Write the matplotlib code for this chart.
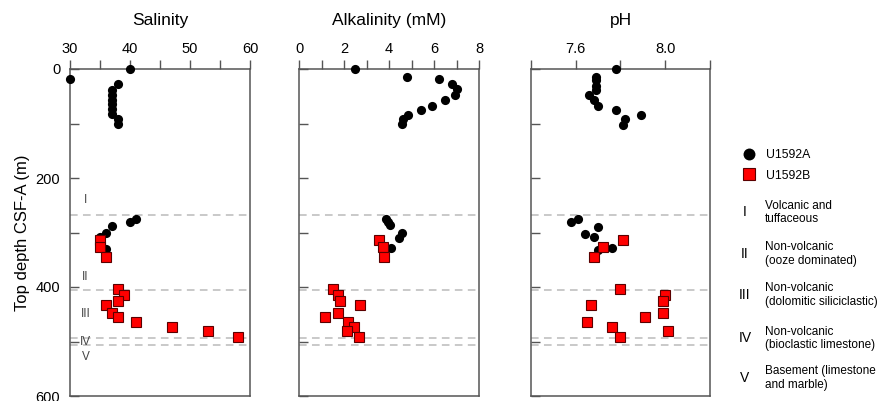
import matplotlib
matplotlib.use("Agg")
import matplotlib.pyplot as plt
from matplotlib.ticker import MultipleLocator

plt.rcParams['font.family'] = ['Liberation Sans', 'DejaVu Sans']

# --- Site U1592A (black circles) ---
sal_a_depth = [0, 18, 28, 38, 47, 56, 65, 74, 83, 92, 101, 275, 280, 288, 300, 308, 330]
sal_a = [40, 30, 38, 37, 37, 37, 37, 37, 37, 38, 38, 41, 40, 37, 36, 35, 36]

alk_a_depth = [0, 14, 19, 28, 37, 48, 56, 68, 75, 84, 92, 101, 275, 280, 287, 301, 310, 329]
alk_a = [2.5, 4.8, 6.2, 6.8, 7.0, 6.9, 6.5, 5.9, 5.4, 4.85, 4.6, 4.55, 3.85, 3.95, 4.05, 4.55, 4.45, 4.1]

ph_a_depth = [0, 14, 21, 31, 38, 48, 57, 68, 75, 84, 92, 102, 276, 281, 289, 302, 309, 328, 333]
ph_a = [7.78, 7.69, 7.69, 7.69, 7.69, 7.66, 7.68, 7.70, 7.78, 7.89, 7.82, 7.81,
        7.61, 7.58, 7.70, 7.64, 7.68, 7.76, 7.70]

# --- Site U1592B (red squares) ---
b_depth = [313, 326, 345, 403, 414, 425, 433, 447, 455, 465, 474, 480, 491]
sal_b = [35, 35, 36, 38, 39, 38, 36, 37, 38, 41, 47, 53, 58]
alk_b = [3.56, 3.71, 3.78, 1.52, 1.71, 1.83, 2.71, 1.75, 1.17, 2.19, 2.42, 2.15, 2.66]
ph_b = [7.81, 7.72, 7.68, 7.80, 8.00, 7.99, 7.67, 7.99, 7.91, 7.65, 7.76, 8.01, 7.80]

# --- Lithostratigraphic units ---
unit_bounds = [267, 405, 493, 507]
unit_names = ['I', 'II', 'III', 'IV', 'V']
unit_label_depth = [240, 382, 449, 501, 528]
unit_desc = ['Volcanic and\ntuffaceous',
             'Non-volcanic\n(ooze dominated)',
             'Non-volcanic\n(dolomitic siliciclastic)',
             'Non-volcanic\n(bioclastic limestone)',
             'Basement (limestone\nand marble)']

W, H = 883, 401
fig = plt.figure(figsize=(W / 100, H / 100), dpi=100)

def px_axes(left, right, top, bottom):
    return fig.add_axes([left / W, 1 - bottom / H, (right - left) / W, (bottom - top) / H])

spine_col = '#555555'
panels = [
    dict(box=(70, 250), title='Salinity', lim=(30, 60), major=10, minor=5,
         a=(sal_a, sal_a_depth), b=sal_b),
    dict(box=(299, 479.3), title='Alkalinity (mM)', lim=(0, 8), major=2, minor=1,
         a=(alk_a, alk_a_depth), b=alk_b),
    dict(box=(530.7, 710.3), title='pH', lim=(7.4, 8.2), major=0.4, minor=0.2,
         a=(ph_a, ph_a_depth), b=ph_b),
]

axes = []
handles = []
for i, p in enumerate(panels):
    ax = px_axes(p['box'][0], p['box'][1], 69, 396)
    axes.append(ax)
    ax.set_xlim(*p['lim'])
    ax.set_ylim(600, 0)
    for d in unit_bounds:
        ax.axhline(d, color='#bbbbbb', lw=1.1, ls=(0, (5, 3.5)), zorder=1)
    ha, = ax.plot(p['a'][0], p['a'][1], 'o', color='black', ms=6.6, mew=0,
                  clip_on=False, zorder=3, label='U1592A')
    hb, = ax.plot(p['b'], b_depth, 's', mfc='#ff0000', mec='#5a0000', ms=6.6,
                  mew=0.8, clip_on=False, zorder=4, label='U1592B')
    if i == 0:
        handles = [ha, hb]

    ax.xaxis.tick_top()
    if i == 2:
        ax.set_xticks([7.6, 8.0])
        ax.set_xticks([7.4, 7.8, 8.2], minor=True)
        ax.set_xticklabels(['7.6', '8.0'])
    else:
        ax.xaxis.set_major_locator(MultipleLocator(p['major']))
        ax.xaxis.set_minor_locator(MultipleLocator(p['minor']))
    ax.yaxis.set_major_locator(MultipleLocator(200))
    ax.yaxis.set_minor_locator(MultipleLocator(100))
    ax.tick_params(axis='x', which='both', direction='out', length=6.3, width=1,
                   color=spine_col, pad=3, labelsize=10.5, top=True, bottom=False)
    ax.tick_params(axis='y', which='both', direction='in', length=6.5, width=1,
                   color=spine_col, pad=7, labelsize=10.5, left=True, right=False)
    if i > 0:
        ax.tick_params(axis='y', labelleft=False)
    for s in ax.spines.values():
        s.set_color(spine_col)
        s.set_linewidth(1.1)
    fig.text((p['box'][0] + p['box'][1]) / 2 / W, 1 - 20 / H, p['title'],
             ha='center', va='center', fontsize=12.5)

axes[0].set_ylabel('Top depth CSF-A (m)', fontsize=12, labelpad=4)

# Unit numerals inside the salinity panel
for name, d in zip(unit_names, unit_label_depth):
    axes[0].text(32.6, d, name, ha='center', va='center', fontsize=8.5, color='#444444')

# Series key
fig.legend(handles=handles, labels=['U1592A', 'U1592B'], loc='upper left',
           bbox_to_anchor=(737 / W, 1 - 143 / H), frameon=False, fontsize=8.8,
           handletextpad=0.9, labelspacing=0.7, handlelength=1.0, borderpad=0,
           markerscale=1.3)

# Lithostratigraphic unit key
unit_key_y = [212.5, 254, 295, 338.5, 378]
for name, desc, y in zip(unit_names, unit_desc, unit_key_y):
    fig.text(745 / W, 1 - y / H, name, ha='center', va='center', fontsize=10)
    fig.text(765 / W, 1 - y / H, desc, ha='left', va='center', fontsize=8.5,
             linespacing=1.15)

fig.savefig('out.png', dpi=100)
